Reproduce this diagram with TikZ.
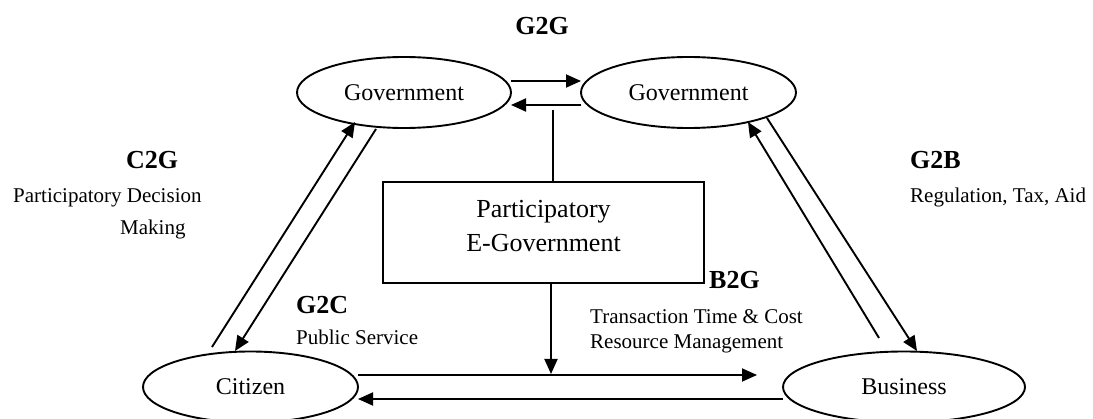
\documentclass[tikz,border=0pt]{standalone}
\usepackage{fontspec}
\setmainfont{Liberation Serif}
\usetikzlibrary{shapes.geometric,arrows.meta,calc}
\begin{document}
\begin{tikzpicture}[x=1pt,y=1pt,
 ell/.style={ellipse,draw,line width=1.9pt,inner sep=0pt,outer sep=0pt,minimum height=71pt,font=\fontsize{24}{28}\selectfont},
 arr/.style={line width=1.9pt,-{Triangle[length=15pt,width=13pt]}},
 con/.style={line width=1.9pt},
 boxst/.style={draw,line width=1.9pt,minimum width=321pt,minimum height=101pt,inner sep=0pt,outer sep=0pt},
 boxtxt/.style={font=\fontsize{26}{30}\selectfont,inner sep=0pt},
 blab/.style={font=\fontsize{26}{30}\selectfont\bfseries,inner sep=0pt},
 slab/.style={font=\fontsize{21}{25}\selectfont,inner sep=0pt}]
\useasboundingbox (0,0) rectangle (1093,418);
% ellipses
\node[ell,minimum width=214pt] (gl) at (404,325.5) {Government};
\node[ell,minimum width=215pt] (gr) at (688.5,325.5) {Government};
\node[ell,minimum width=215pt] (cit) at (250.5,31) {Citizen};
\node[ell,minimum width=242pt] (bus) at (904,31) {Business};
% central box
\node[boxst] (box) at (543.5,185.5) {};
\node[boxtxt,anchor=base] (boxl1) at ($(box.center)+(0,14.5)$) {Participatory};
\node[boxtxt,anchor=base] (boxl2) at ($(box.center)+(0,-19.5)$) {E-Government};
% G2G arrows
\draw[arr] ([yshift=11.5pt]gl.east) -- ([yshift=11.5pt]gr.west);
\draw[arr] ([yshift=-12.5pt]gr.west) -- ([yshift=-12.5pt]gl.east);
% centre connectors
\coordinate (g2gend) at (553,308);
\draw[con] (g2gend) -- (g2gend |- box.north);
\coordinate (b2gtip) at (551,44);
\draw[arr] (b2gtip |- box.south) -- (b2gtip);
% bottom arrows
\draw[arr] ([yshift=12pt]cit.east) -- ([xshift=-26pt,yshift=12pt]bus.west);
\draw[arr] ([yshift=-12pt]bus.west) -- ([yshift=-12pt]cit.east);
% left diagonals
\draw[arr] ([shift={(-38.5,40)}]cit.center) -- ([shift={(-49,-29.5)}]gl.center);
\draw[arr] ([shift={(-28,-36.5)}]gl.center) -- ([shift={(-15.5,36)}]cit.center);
% right diagonals
\draw[arr] ([shift={(-25,49)}]bus.center) -- ([shift={(59.5,-29.5)}]gr.center);
\draw[arr] ([shift={(78.5,-25.5)}]gr.center) -- ([shift={(13,36)}]bus.center);
% labels
\node[blab,anchor=base] (g2g) at (542,383) {G2G};
\node[blab,anchor=base] (c2g) at (152,249) {C2G};
\node[slab,anchor=base west] (c2gt1) at (13,215) {Participatory Decision};
\node[slab,anchor=base west] (c2gt2) at (120,183) {Making};
\node[blab,anchor=base west] (g2b) at (910,249) {G2B};
\node[slab,anchor=base west] (g2bt) at (910,215) {Regulation, Tax, Aid};
\node[blab,anchor=base west] (g2c) at (296,104) {G2C};
\node[slab,anchor=base west] (g2ct) at (296,73) {Public Service};
\node[blab,anchor=base west] (b2g) at (709,129) {B2G};
\node[slab,anchor=base west] (b2gt1) at (590,94) {Transaction Time \& Cost};
\node[slab,anchor=base west] (b2gt2) at (590,69) {Resource Management};
\end{tikzpicture}
\end{document}
